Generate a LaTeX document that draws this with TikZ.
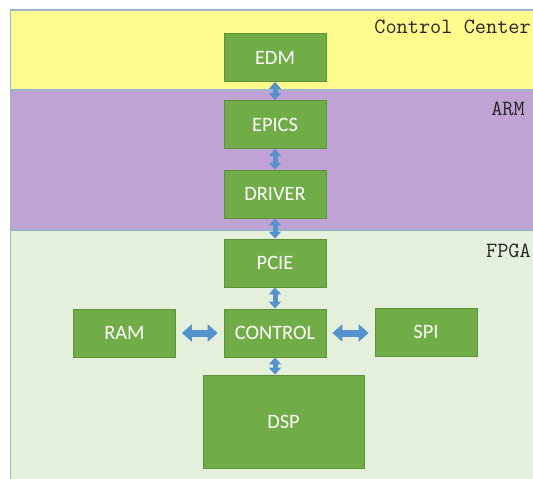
\documentclass[tikz,border=0pt]{standalone}
\usepackage{fontspec}
\newfontfamily\boxfont{Carlito}
\usepackage{tikz}
\usetikzlibrary{arrows.meta}
\definecolor{ccyellow}{HTML}{FFFA8C}
\definecolor{armpurple}{HTML}{C0A3D4}
\definecolor{fpgagreen}{HTML}{E4EFDC}
\definecolor{zoneedge}{HTML}{9DB3C8}
\definecolor{boxgreen}{HTML}{70AD47}
\definecolor{boxedge}{HTML}{5E9239}
\definecolor{linkblue}{HTML}{5593CF}

\begin{document}
\begin{tikzpicture}[x=1pt,y=-1pt,
  block/.style={draw=boxedge, fill=boxgreen, line width=0.8pt, text=white, font=\boxfont\fontsize{20.4}{24}\selectfont, inner sep=0pt, minimum width=102pt, minimum height=48pt},
  zone/.style={draw=zoneedge, line width=1.2pt},
  zonelabel/.style={anchor=base east, inner sep=0pt, text=black!85, font=\ttfamily\fontsize{21.7}{24}\selectfont},
  vlink/.style={draw=linkblue, line width=5pt, {Triangle[width=12pt,length=7pt]}-{Triangle[width=12pt,length=7pt]}},
  hlink/.style={draw=linkblue, line width=7pt, {Triangle[width=17pt,length=10pt]}-{Triangle[width=17pt,length=10pt]}, shorten <=6pt, shorten >=6pt}]
\useasboundingbox[fill=white] (0,0) rectangle (533,479);
%\draw[help lines,step=50] (0,0) grid (533,479);
\draw[zone,fill=ccyellow] (10.5,10) rectangle (545,90);
\draw[zone,fill=armpurple] (10.5,90) rectangle (545,230);
\draw[zone,fill=fpgagreen] (10.5,230) rectangle (545,490);
\node[zonelabel] (cclabel) at (531,34) {Control Center};
\node[zonelabel] (armlabel) at (525,115) {ARM};
\node[zonelabel] (fpgalabel) at (531,257) {FPGA};
\node[block] (edm) at (275,57.5) {EDM};
\node[block] (epics) at (275,124.5) {EPICS};
\node[block] (driver) at (275,194) {DRIVER};
\node[block] (pcie) at (275,263) {PCIE};
\node[block] (control) at (275,333) {CONTROL};
\node[block] (ram) at (124.5,333) {RAM};
\node[block] (spi) at (426,332) {SPI};
\node[block, minimum width=161pt, minimum height=93pt] (dsp) at (283.5,421.5) {DSP};
\draw[vlink] (edm) -- (epics);
\draw[vlink] (epics) -- (driver);
\draw[vlink] (driver) -- (pcie);
\draw[vlink] (pcie) -- (control);
\draw[vlink] (control.south) -- (control.south |- dsp.north);
\draw[hlink] (ram) -- (control);
\draw[hlink] (control) -- (control -| spi.west);
\end{tikzpicture}
\end{document}
